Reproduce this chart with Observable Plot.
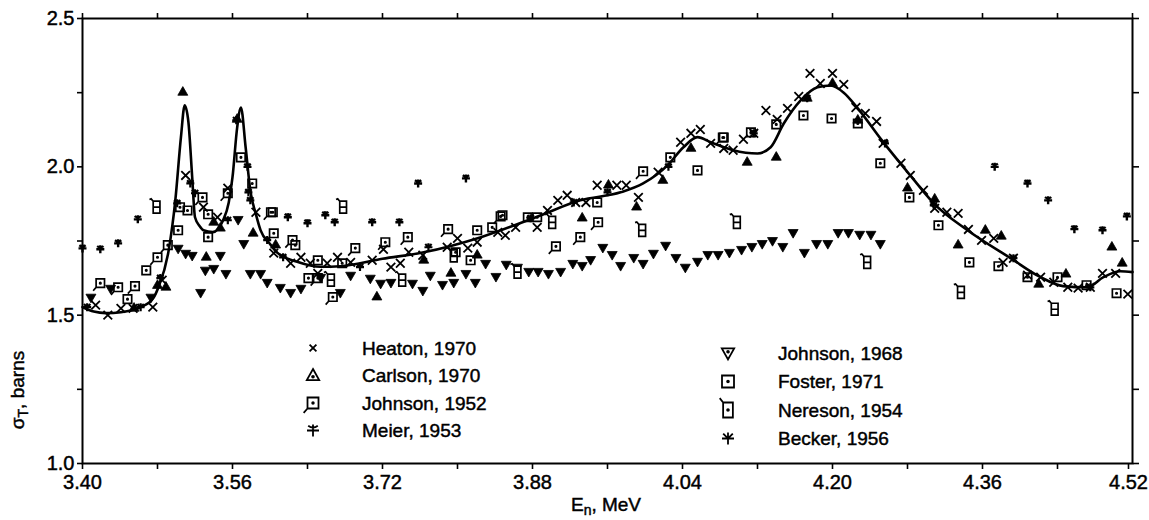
<!DOCTYPE html>
<html><head><meta charset="utf-8">
<script src="https://cdn.jsdelivr.net/npm/d3@7"></script>
<script src="https://cdn.jsdelivr.net/npm/@observablehq/plot@0.6"></script>
<style>
html,body{margin:0;padding:0;background:#fff;}
#chart{width:1149px;height:520px;}
#chart svg text{stroke:#000;stroke-width:0.45px;}
</style>
</head><body><div id="chart"></div>
<script>
// ---------- axis ticks ----------
const xTicks = [3.40,3.48,3.56,3.64,3.72,3.80,3.88,3.96,4.04,4.12,4.20,4.28,4.36,4.44,4.52];
const xTickLabels = ["3.40","","3.56","","3.72","","3.88","","4.04","","4.20","","4.36","","4.52"];
const yTicks = [1.0,1.25,1.5,1.75,2.0,2.25,2.5];
const yTickLabels = ["1.0","","1.5","","2.0","","2.5"];

// ---------- smooth fitted curve ----------
const fitX = [3.400,3.412,3.425,3.441,3.462,3.475,3.481,3.492,3.499,3.505,3.509,3.513,3.517,3.520,3.525,3.529,3.539,3.550,3.556,3.560,3.565,3.569,3.574,3.579,3.585,3.590,3.600,3.608,3.629,3.654,3.675,3.720,3.764,3.825,3.889,3.931,3.974,3.998,4.024,4.041,4.056,4.070,4.094,4.120,4.134,4.148,4.166,4.184,4.198,4.212,4.227,4.251,4.283,4.308,4.344,4.390,4.422,4.446,4.472,4.489,4.507,4.520];
const fitY = [1.527,1.512,1.507,1.510,1.527,1.555,1.594,1.720,1.887,2.100,2.207,2.150,1.965,1.830,1.800,1.786,1.780,1.820,1.880,1.965,2.133,2.200,2.066,1.920,1.840,1.786,1.740,1.710,1.680,1.663,1.665,1.690,1.712,1.763,1.837,1.887,1.914,1.944,2.005,2.066,2.100,2.083,2.056,2.045,2.066,2.146,2.224,2.268,2.274,2.250,2.197,2.096,1.971,1.877,1.786,1.692,1.628,1.598,1.594,1.628,1.648,1.645];

// ---------- measured series [E (MeV), sigma (b)] ----------
const heaton = [[3.414,1.534],[3.427,1.500],[3.441,1.523],[3.454,1.523],[3.475,1.527],[3.485,1.618],[3.510,1.971],[3.529,1.864],[3.544,1.830],[3.555,1.928],[3.585,1.847],[3.604,1.709],[3.622,1.675],[3.633,1.695],[3.643,1.675],[3.651,1.641],[3.661,1.675],[3.672,1.695],
[3.686,1.678],[3.709,1.685],[3.721,1.722],[3.729,1.662],[3.739,1.675],[3.748,1.712],[3.763,1.702],[3.789,1.729],[3.800,1.759],[3.811,1.726],[3.821,1.746],[3.843,1.779],[3.851,1.769],[3.862,1.796],[3.885,1.796],[3.896,1.853],[3.907,1.887],[3.917,1.904],[3.926,1.880],[3.937,1.880],[3.949,1.938],[3.970,1.938],[3.980,1.938],[3.993,1.897],
[4.014,1.982],[4.038,2.083],[4.049,2.113],[4.059,2.126],[4.070,2.079],[4.084,2.062],[4.094,2.056],[4.105,2.093],[4.116,2.113],[4.129,2.190],[4.141,2.160],[4.152,2.197],[4.164,2.237],[4.176,2.315],[4.187,2.281],[4.200,2.315],[4.212,2.278],[4.225,2.200],[4.235,2.180],[4.247,2.153],
[4.254,2.079],[4.273,2.012],[4.283,1.971],[4.297,1.921],[4.309,1.860],[4.322,1.847],[4.334,1.843],[4.345,1.789],[4.359,1.752],[4.372,1.759],[4.382,1.678],[4.393,1.692],[4.408,1.635],[4.422,1.628],[4.436,1.611],[4.451,1.594],[4.462,1.591],[4.475,1.594],[4.488,1.641],[4.502,1.641],[4.515,1.571]];
const carlson = [[3.455,1.523],[3.480,1.600],[3.489,1.594],[3.507,2.251],[3.532,1.695],[3.540,1.813],[3.547,1.793],[3.565,2.160],[3.582,1.776],[3.606,1.736],
[3.714,1.561],[3.764,1.685],[3.793,1.641],[3.821,1.702],[3.933,1.827],[3.961,1.938],
[3.991,1.864],[4.019,1.954],[4.049,2.062],[4.109,2.015],[4.140,2.032],[4.173,2.231],[4.200,2.281],[4.227,2.157],
[4.280,1.928],[4.309,1.891],[4.334,1.736],[4.363,1.786],[4.380,1.766],[4.420,1.604],[4.449,1.638],[4.498,1.729],[4.509,1.675]];
const johnson1952 = [[3.419,1.608],[3.438,1.594],[3.456,1.598],[3.480,1.695],[3.491,1.736],[3.528,1.897],[3.555,1.911],[3.601,1.847],[3.624,1.753],[3.651,1.625],[3.667,1.561],
[3.691,1.726],[3.723,1.746],[3.747,1.763],[3.790,1.790],[3.846,1.833],[3.905,1.732],[3.931,1.763],[3.950,1.813],[3.998,1.985],[4.083,2.099]];
const meier = [[3.400,1.725],[3.419,1.722],[3.438,1.742],[3.459,1.823],[3.619,1.830],[3.640,1.810],[3.659,1.837],[3.669,1.813],[3.709,1.813],[3.738,1.813],[3.758,1.944],[3.809,1.961],
[4.373,2.000],[4.408,1.944],[4.430,1.887],[4.458,1.790],[4.488,1.786],[4.514,1.833]];
const johnson1968 = [[3.409,1.561],[3.430,1.591],[3.473,1.561],[3.502,1.726],[3.510,1.709],[3.517,1.702],[3.526,1.577],[3.531,1.652],[3.540,1.658],[3.547,1.702],[3.553,1.641],[3.566,1.823],[3.572,1.742],[3.579,1.641],[3.590,1.641],[3.597,1.611],[3.611,1.594],[3.622,1.577],[3.633,1.591],[3.654,1.628],[3.675,1.577],
[3.686,1.635],[3.707,1.625],[3.718,1.608],[3.729,1.611],[3.752,1.608],[3.763,1.584],[3.771,1.635],[3.784,1.604],[3.796,1.611],[3.809,1.641],[3.819,1.611],[3.830,1.675],[3.841,1.631],[3.852,1.672],[3.864,1.662],[3.876,1.648],[3.886,1.648],[3.897,1.641],[3.910,1.648],[3.923,1.675],[3.933,1.668],[3.942,1.688],[3.955,1.729],[3.965,1.705],[3.974,1.668],
[3.988,1.695],[3.998,1.675],[4.009,1.709],[4.022,1.736],[4.033,1.695],[4.043,1.662],[4.056,1.682],[4.067,1.705],[4.078,1.705],[4.090,1.712],[4.103,1.722],[4.114,1.732],[4.125,1.742],[4.136,1.752],[4.147,1.732],[4.158,1.779],[4.170,1.712],[4.183,1.742],[4.195,1.742],[4.206,1.779],[4.217,1.779],[4.229,1.773],[4.241,1.773],[4.251,1.742]];
const foster = [[3.448,1.554],[3.468,1.651],[3.502,1.786],[3.504,1.864],[3.512,1.853],[3.534,1.840],[3.534,1.763],[3.569,2.032],[3.581,1.944],[3.603,1.847],[3.604,1.776],[3.627,1.736],[3.641,1.625],[3.651,1.685],[3.677,1.675],
[3.798,1.712],[3.814,1.685],[3.821,1.786],[3.837,1.796],[3.848,1.837],[3.875,1.830],[3.885,1.830],[3.949,1.880],
[4.027,2.032],[4.056,1.988],[4.084,2.099],[4.113,2.116],[4.140,2.143],[4.169,2.173],[4.199,2.163],[4.227,2.146],[4.251,2.012],
[4.282,1.897],[4.313,1.803],[4.346,1.678],[4.377,1.665],[4.408,1.628],[4.440,1.628],[4.471,1.601],[4.503,1.574]];
const nereson = [[3.479,1.864],[3.665,1.618],[3.678,1.864],[3.741,1.618],[3.796,1.700],[3.864,1.645],[3.901,1.813],[3.997,1.786],[4.098,1.813],[4.237,1.678],[4.337,1.577],[4.437,1.520]];
const becker = [[3.405,1.527],[3.462,1.527],[3.483,1.625],[3.501,1.877],[3.515,1.944],[3.520,1.911],[3.555,1.820],[3.564,2.157],[3.576,2.000],[3.577,1.914],[3.579,1.887],[3.597,1.753],[3.614,1.695],
[3.696,1.662],[3.769,1.729],[3.878,1.827],[3.924,1.880],[3.960,1.914],[4.025,2.000],[4.116,2.113],[4.173,2.231],[4.256,2.079],[4.308,1.870],[4.393,1.692],[4.475,1.594]];

const legendLeft = ["Heaton, 1970","Carlson, 1970","Johnson, 1952","Meier, 1953"];
const legendRight = ["Johnson, 1968","Foster, 1971","Nereson, 1954","Becker, 1956"];

// ---------- custom symbols ----------
const sym = f => ({draw(c, size){ f(c, Math.sqrt(size / Math.PI)); }});
const dotAt = (c, x, y, rr) => { c.moveTo(x + rr, y); c.arc(x, y, rr, 0, 2 * Math.PI); };
const symSquareDot = sym((c, r) => { c.rect(-r, -r, 2*r, 2*r); dotAt(c, 0, 0, Math.max(0.7, r*0.15)); });
const symSquareTail = sym((c, r) => { c.rect(-r, -r, 2*r, 2*r); c.moveTo(-r, r*0.6); c.lineTo(-r, r); c.lineTo(-1.7*r, 1.8*r); dotAt(c, 0, 0, Math.max(0.7, r*0.15)); });
const symNereson = sym((c, r) => { const w = 0.65*r, h = 1.15*r; c.rect(-w, -h, 2*w, 2*h); c.moveTo(-w, -h); c.lineTo(-1.6*w, -h-0.7*w); c.lineTo(-2.1*w, -h-0.5*w); c.moveTo(-w, 0); c.lineTo(w, 0); });
const symNeresonLeg = sym((c, r) => { const w = 0.65*r, h = 1.0*r; c.rect(-w, -h, 2*w, 2*h); c.moveTo(-w, -h); c.lineTo(-1.7*w, -h-0.9*w); dotAt(c, 0, 0, 0.9); });
const symMeier = sym((c, r) => { c.moveTo(-r, 0); c.lineTo(r, 0); c.moveTo(0, -r); c.lineTo(0, r); c.moveTo(-r*0.8, -r*0.8); c.quadraticCurveTo(0, -r*0.2, r*0.8, -r*0.8); });
const symBecker = sym((c, r) => { c.moveTo(-r, 0); c.lineTo(r, 0); c.moveTo(0, -r); c.lineTo(0, r); c.moveTo(-r*0.8, -r*0.8); c.lineTo(0, 0); c.lineTo(r*0.8, -r*0.8); });
const symTriUpDot = sym((c, r) => { c.moveTo(0, -r); c.lineTo(r*0.95, r*0.7); c.lineTo(-r*0.95, r*0.7); c.closePath(); dotAt(c, 0, r*0.2, 0.9); });
const symTriDownDot = sym((c, r) => { c.moveTo(-r*0.95, -r*0.7); c.lineTo(r*0.95, -r*0.7); c.lineTo(0, r); c.closePath(); dotAt(c, 0, -r*0.2, 0.9); });

const px = d => d[0], py = d => d[1];
const xFmt = d => xTickLabels[xTicks.findIndex(t => Math.abs(t - d) < 1e-6)];
const yFmt = d => yTickLabels[yTicks.findIndex(t => Math.abs(t - d) < 1e-6)];
const chart = Plot.plot({
  width: 1149, height: 520,
  marginLeft: 82, marginRight: 17, marginTop: 18, marginBottom: 57,
  style: {fontFamily: "'Liberation Sans', Arial, sans-serif", fontSize: "20px", background: "#fff", color: "#000", overflow: "visible"},
  x: {domain: [3.40, 4.52]},
  y: {domain: [1.0, 2.5]},
  marks: [
    Plot.frame({stroke: "#000", strokeWidth: 2}),
    Plot.axisX({anchor: "bottom", ticks: xTicks.slice(0, -1), tickFormat: xFmt, tickSize: 6, tickPadding: 5, strokeWidth: 1.6, label: null, fontSize: 20}),
    Plot.axisX({anchor: "bottom", ticks: xTicks.slice(-1), tickFormat: xFmt, tickSize: 6, tickPadding: 5, strokeWidth: 1.6, label: null, fontSize: 20, dx: -4}),
    Plot.axisX({anchor: "top", ticks: xTicks, tickFormat: () => "", tickSize: 6, strokeWidth: 1.6, label: null}),
    Plot.axisY({anchor: "left", ticks: yTicks, tickFormat: yFmt, tickSize: 5, tickPadding: 3, strokeWidth: 1.6, label: null, fontSize: 20}),
    Plot.axisY({anchor: "right", ticks: yTicks, tickFormat: () => "", tickSize: 6, strokeWidth: 1.6, label: null}),
    Plot.line(fitX.map((x, i) => [x, fitY[i]]), {x: px, y: py, curve: "monotone-x", stroke: "#000", strokeWidth: 2.6}),
    Plot.dot(johnson1968, {x: px, y: py, symbol: "triangle", rotate: 180, r: 3.7, fill: "#000", stroke: "#000", strokeWidth: 0.8}),
    Plot.dot(carlson, {x: px, y: py, symbol: "triangle", r: 3.7, fill: "#000", stroke: "#000", strokeWidth: 0.8}),
    Plot.dot(nereson, {x: px, y: py, symbol: symNereson, r: 5.2, fill: "#fff", stroke: "#000", strokeWidth: 1.7}),
    Plot.dot(johnson1952, {x: px, y: py, symbol: symSquareTail, r: 4.2, fill: "none", stroke: "#000", strokeWidth: 1.7}),
    Plot.dot(foster, {x: px, y: py, symbol: symSquareDot, r: 4.2, fill: "none", stroke: "#000", strokeWidth: 1.7}),
    Plot.dot(meier, {x: px, y: py, symbol: symMeier, r: 4, fill: "none", stroke: "#000", strokeWidth: 2.4}),
    Plot.dot(becker, {x: px, y: py, symbol: symBecker, r: 4, fill: "none", stroke: "#000", strokeWidth: 2.2}),
    Plot.dot(heaton, {x: px, y: py, symbol: "times", r: 4, fill: "none", stroke: "#000", strokeWidth: 1.8})
  ]
});
document.getElementById("chart").appendChild(chart);

// ---------- legend & axis titles ----------
const svg = d3.select(chart);
const font = "'Liberation Sans', Arial, sans-serif";
const legSymL = [{t: d3.symbolTimes, r: 3.2, fill: "none", sw: 1.8},
                 {t: symTriUpDot, r: 6.5, fill: "none", sw: 1.8},
                 {t: symSquareTail, r: 5.5, fill: "none", sw: 1.8},
                 {t: symMeier, r: 6, fill: "none", sw: 1.8}];
const legSymR = [{t: symTriDownDot, r: 6.5, fill: "none", sw: 1.8},
                 {t: symSquareDot, r: 6, fill: "none", sw: 1.8},
                 {t: symNeresonLeg, r: 7.5, fill: "none", sw: 1.8},
                 {t: symBecker, r: 6, fill: "none", sw: 1.8}];
function legend(names, syms, sx, tx, y0, dy) {
  const g = svg.append("g").attr("text-anchor", "start");
  names.forEach((n, i) => {
    const s = syms[i];
    g.append("path").attr("transform", `translate(${sx},${y0 + i*dy})`)
      .attr("d", d3.symbol(s.t, Math.PI * s.r * s.r)())
      .attr("fill", s.fill).attr("stroke", "#000").attr("stroke-width", s.sw);
    g.append("text").attr("x", tx).attr("y", y0 + i*dy).attr("dy", "0.36em").attr("text-anchor", "start")
      .attr("font-family", font).attr("font-size", 19).attr("fill", "#000").text(n);
  });
}
legend(legendLeft, legSymL, 313, 362, 348, 27.5);
legend(legendRight, legSymR, 728, 778, 353, 28.5);

const xt = svg.append("text").attr("x", 606).attr("y", 511).attr("text-anchor", "middle")
  .attr("font-family", font).attr("font-size", 19).attr("fill", "#000");
xt.append("tspan").text("E");
xt.append("tspan").attr("font-size", 14).attr("dy", 4).text("n");
xt.append("tspan").attr("dy", -4).text(", MeV");

const yt = svg.append("text").attr("transform", "translate(24,390) rotate(-90)").attr("text-anchor", "middle")
  .attr("font-family", font).attr("font-size", 19).attr("fill", "#000");
yt.append("tspan").text("σ");
yt.append("tspan").attr("font-size", 14).attr("dy", 4).text("T");
yt.append("tspan").attr("dy", -4).text(", barns");
</script></body></html>
